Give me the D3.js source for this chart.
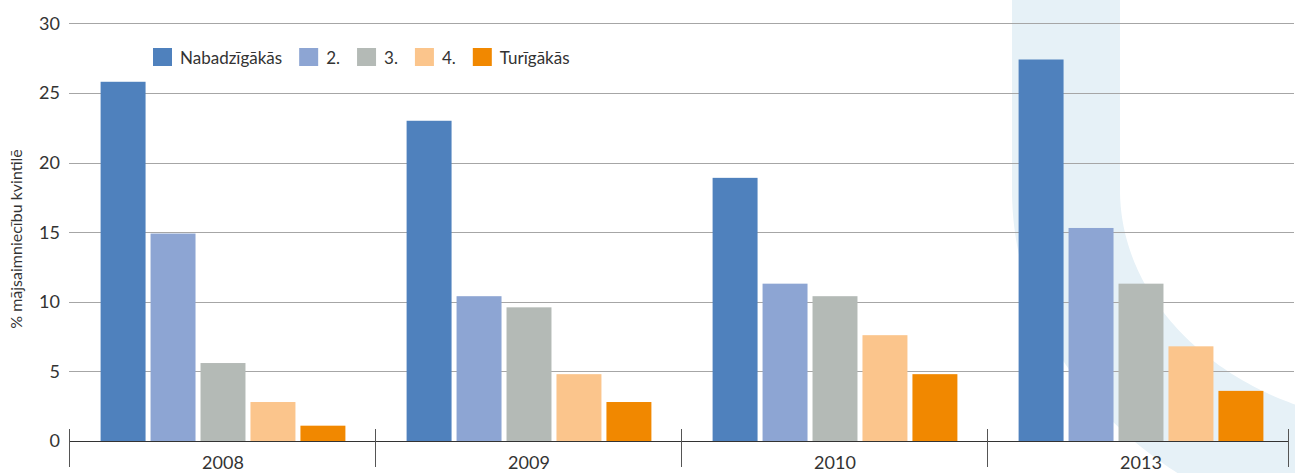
<!DOCTYPE html>
<html>
<head>
<meta charset="utf-8">
<script src="https://cdnjs.cloudflare.com/ajax/libs/d3/7.9.0/d3.min.js"></script>
<style>
  html, body { margin: 0; padding: 0; background: #fff; }
  svg text { font-family: Lato, "Open Sans", sans-serif; fill: #333; }
</style>
</head>
<body>
<div id="chart"></div>
<script>
// dati
const gadi = ["2008", "2009", "2010", "2013"];
const kvintiles = ["Nabadzīgākās", "2.", "3.", "4.", "Turīgākās"];
const vNabadzigakas = [25.8, 23.0, 18.9, 27.4];
const v2 = [14.9, 10.4, 11.3, 15.3];
const v3 = [5.6, 9.6, 10.4, 11.3];
const v4 = [2.8, 4.8, 7.6, 6.8];
const vTurigakas = [1.1, 2.8, 4.8, 3.6];
const yTicks = [0, 5, 10, 15, 20, 25, 30];
const krasas = ["#4f81bd", "#8da5d3", "#b4bab6", "#fbc58c", "#f18800"];

const serijas = [vNabadzigakas, v2, v3, v4, vTurigakas];

const W = 1295, H = 473;
const mLeft = 69, mRight = 1288, mTop = 23.3, mBottom = 441;

const svg = d3.select("#chart").append("svg")
  .attr("width", W).attr("height", H);

// dekoratīvā fona josla labajā pusē (ceturtdaļa eliptiska gredzena)
const cx = 1420, cy = 190;
const arejais = d3.range(0, 91).map(a => {
  const t = a * Math.PI / 180;
  return [cx - 408 * Math.cos(t), cy + 352 * Math.sin(t)];
});
const iekseja = d3.range(90, -1, -1).map(a => {
  const t = a * Math.PI / 180;
  return [cx - 300 * Math.cos(t), cy + 236 * Math.sin(t)];
});
const pts = [[cx - 408, 0]].concat(arejais, iekseja, [[cx - 300, 0]]);
svg.append("path")
  .attr("d", d3.line()(pts) + "Z")
  .attr("fill", "#e6f1f7");

const y = d3.scaleLinear().domain([0, 30]).range([mBottom, mTop]);
const x0 = d3.scaleBand().domain(gadi).range([70, 1294])
  .paddingInner(0.2).paddingOuter(0.1);
const x1 = d3.scaleBand().domain(d3.range(kvintiles.length))
  .range([0, x0.bandwidth()]).paddingInner(0.1);

// režģa līnijas
svg.append("g").selectAll("line")
  .data(yTicks.filter(d => d > 0))
  .join("line")
  .attr("x1", mLeft).attr("x2", 1294)
  .attr("y1", d => Math.round(y(d)) + 0.5).attr("y2", d => Math.round(y(d)) + 0.5)
  .attr("stroke", "#a6a6a6").attr("stroke-width", 1);

// y ass teksti
svg.append("g").selectAll("text")
  .data(yTicks)
  .join("text")
  .attr("x", 60).attr("y", d => y(d))
  .attr("dy", "0.36em")
  .attr("text-anchor", "end")
  .attr("font-size", 18)
  .text(d => d);

// stabiņi
const grupas = svg.append("g").selectAll("g")
  .data(gadi)
  .join("g")
  .attr("transform", d => `translate(${x0(d)},0)`);

grupas.selectAll("rect")
  .data((d, i) => serijas.map((s, k) => ({ k, v: s[i] })))
  .join("rect")
  .attr("x", d => x1(d.k))
  .attr("width", x1.bandwidth())
  .attr("y", d => y(d.v))
  .attr("height", d => y(0) - y(d.v))
  .attr("fill", d => krasas[d.k]);

// x ass
svg.append("line")
  .attr("x1", mLeft).attr("x2", mRight)
  .attr("y1", mBottom + 0.5).attr("y2", mBottom + 0.5)
  .attr("stroke", "#333").attr("stroke-width", 1);

// grupu atdalītāji
const atdalitaji = gadi.map(d => Math.floor(x0(d) - x0.step() * 0.1) - 1).concat([mRight]);
svg.append("g").selectAll("line")
  .data(atdalitaji)
  .join("line")
  .attr("x1", d => d + 0.5).attr("x2", d => d + 0.5)
  .attr("y1", 429).attr("y2", 467)
  .attr("stroke", "#555").attr("stroke-width", 1);

svg.append("g").selectAll("text")
  .data(gadi)
  .join("text")
  .attr("x", d => x0(d) + x0.bandwidth() / 2)
  .attr("y", 469)
  .attr("text-anchor", "middle")
  .attr("font-size", 18)
  .text(d => d);

// y ass nosaukums
svg.append("text")
  .attr("transform", "translate(22,239) rotate(-90)")
  .attr("text-anchor", "middle")
  .attr("font-size", 16)
  .text("% mājsaimniecību kvintilē");

// leģenda
const leg = svg.append("g");
let lx = 153;
kvintiles.forEach((nos, k) => {
  leg.append("rect")
    .attr("x", lx).attr("y", 48)
    .attr("width", 19).attr("height", 18)
    .attr("fill", krasas[k]);
  const t = leg.append("text")
    .attr("x", lx + 27).attr("y", 64)
    .attr("font-size", 17)
    .text(nos);
  lx = lx + 27 + t.node().getComputedTextLength() + 17;
});
</script>
</body>
</html>
